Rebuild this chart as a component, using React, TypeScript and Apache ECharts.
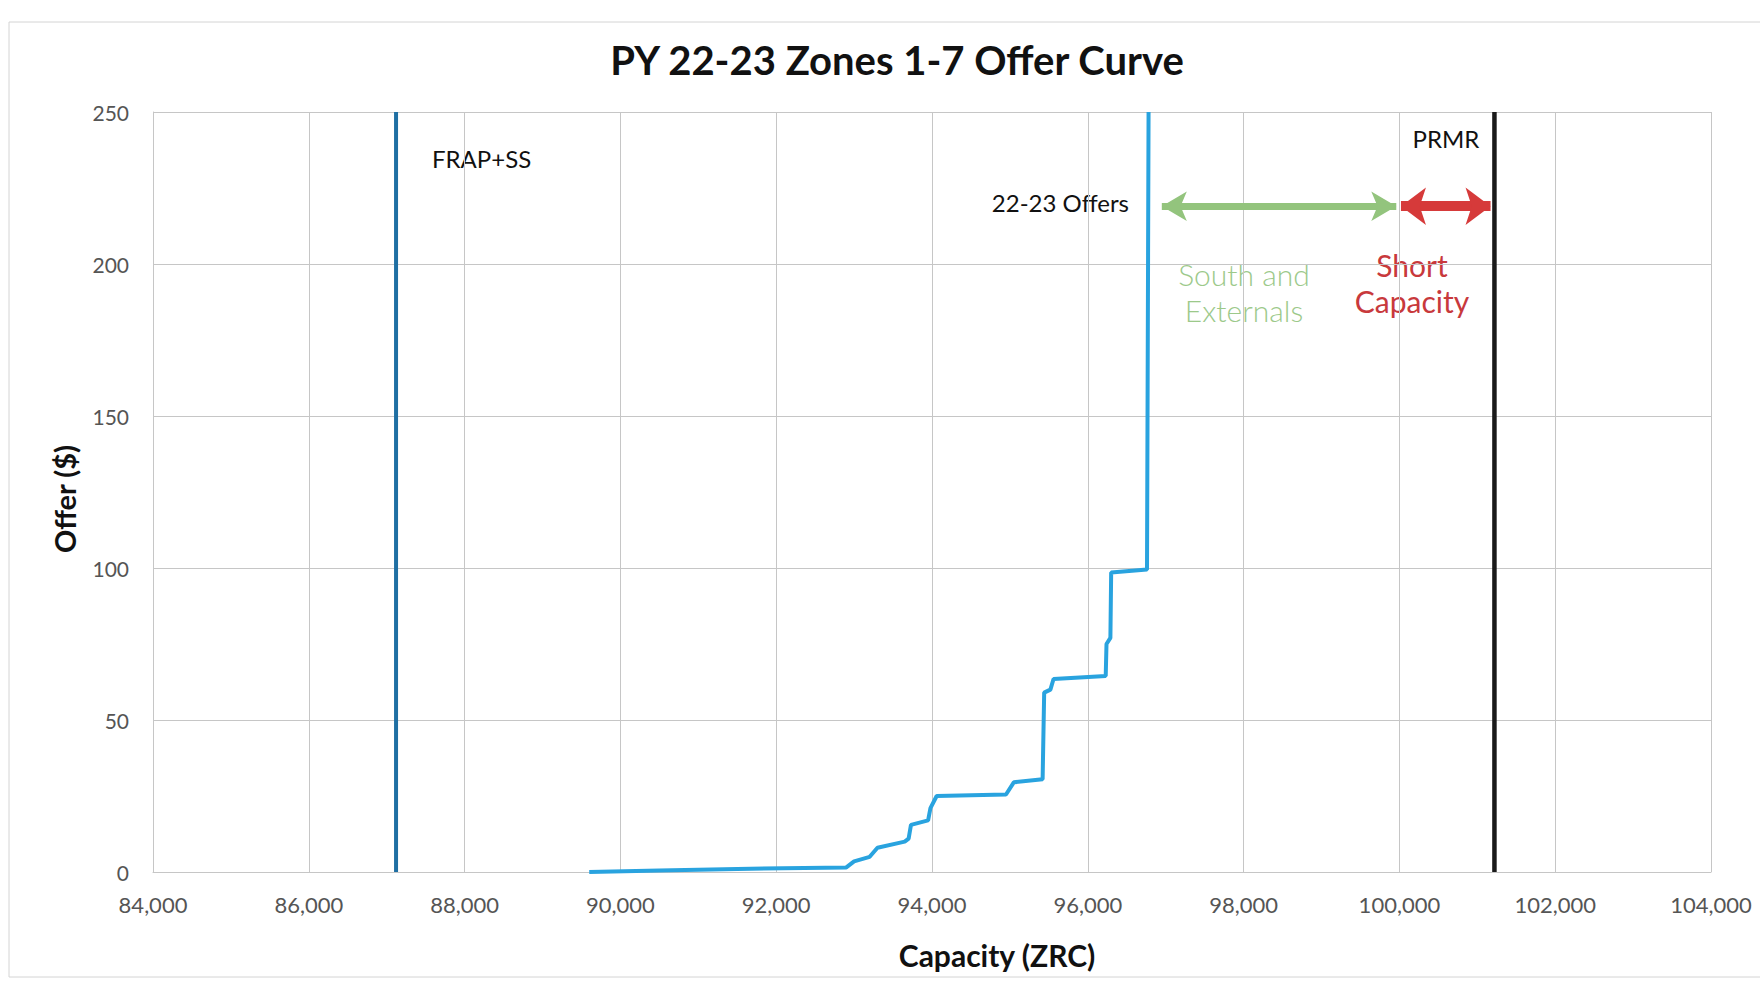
import React, { useEffect, useRef } from "react";
import * as echarts from "echarts";

// ---- Data ----
const offerCapacity = [
  89600, 90500, 91500, 92900, 93000, 93200, 93300, 93650, 93700, 93730, 93950, 93980,
  94060, 94950, 95050, 95420, 95440, 95520, 95560, 96230, 96240, 96290, 96300, 96760, 96780,
];
const offerPrice = [
  0, 0.5, 1, 1.5, 3.5, 5, 8, 10, 11, 15.5, 17, 21,
  25, 25.5, 29.5, 30.5, 59, 60, 63.5, 64.5, 75, 77, 98.5, 99.5, 250,
];
const frapCapacity = 87120;
const prmrCapacity = 101220;
const arrowLevel = 219;
const southExternalsRange = [96950, 99960];
const shortCapacityRange = [100020, 101170];

const xMin = 84000;
const xMax = 104000;
const xStep = 2000;
const yMin = 0;
const yMax = 250;
const yStep = 50;

const FONT = "Lato, 'Open Sans', sans-serif";

export default function App() {
  const ref = useRef<HTMLDivElement>(null);

  useEffect(() => {
    if (!ref.current) return;
    const chart = echarts.init(ref.current, null, { renderer: "svg" });
    const gridColor = "#c6c6c6";
    const offerData = offerCapacity.map((c, i) => [c, offerPrice[i]]);

    chart.setOption({
      animation: false,
      backgroundColor: "#ffffff",
      grid: { left: 153, right: 49, top: 112, bottom: 112, containLabel: false },
      xAxis: {
        type: "value",
        min: xMin,
        max: xMax,
        interval: xStep,
        axisLine: { show: true, lineStyle: { color: gridColor, width: 1 } },
        axisTick: { show: false },
        splitLine: { show: true, lineStyle: { color: gridColor, width: 1 } },
        axisLabel: {
          margin: 21,
          color: "#555555",
          fontSize: 22,
          fontFamily: FONT,
          formatter: (v: number) => v.toLocaleString("en-US"),
        },
      },
      yAxis: {
        type: "value",
        min: yMin,
        max: yMax,
        interval: yStep,
        axisLine: { show: true, lineStyle: { color: gridColor, width: 1 } },
        axisTick: { show: false },
        splitLine: { show: true, lineStyle: { color: gridColor, width: 1 } },
        axisLabel: { margin: 24, color: "#555555", fontSize: 21, fontFamily: FONT },
      },
      series: [
        {
          name: "22-23 Offers",
          type: "line",
          data: offerData,
          showSymbol: false,
          symbol: "none",
          lineStyle: { color: "#29a3df", width: 4 },
          z: 3,
        },
        {
          name: "FRAP+SS",
          type: "line",
          data: [
            [frapCapacity, yMin],
            [frapCapacity, yMax],
          ],
          symbol: "none",
          lineStyle: { color: "#1f6fa3", width: 4 },
        },
        {
          name: "PRMR",
          type: "line",
          data: [
            [prmrCapacity, yMin],
            [prmrCapacity, yMax],
          ],
          symbol: "none",
          lineStyle: { color: "#1a1a1a", width: 4.5 },
          markLine: {
            silent: true,
            symbol: ["arrow", "arrow"],
            label: { show: false },
            emphasis: { disabled: true },
            data: [
              [
                {
                  coord: [southExternalsRange[0], arrowLevel],
                  symbolSize: [22, 25],
                  lineStyle: { color: "#93c47d", width: 7, type: "solid" },
                  itemStyle: { color: "#93c47d" },
                },
                { coord: [southExternalsRange[1], arrowLevel], symbolSize: [22, 25] },
              ],
              [
                {
                  coord: [shortCapacityRange[0], arrowLevel],
                  symbolSize: [28, 25],
                  lineStyle: { color: "#d63a3a", width: 10, type: "solid" },
                  itemStyle: { color: "#d63a3a" },
                },
                { coord: [shortCapacityRange[1], arrowLevel], symbolSize: [28, 25] },
              ],
            ],
          },
        },
      ],
      graphic: [
        {
          type: "rect",
          silent: true,
          shape: { x: 9, y: 22, width: 1800, height: 955 },
          style: { fill: "none", stroke: "#d4d4d4", lineWidth: 1 },
          z: -10,
        },
        {
          type: "text",
          x: 897,
          y: 60,
          style: {
            text: "PY 22-23 Zones 1-7 Offer Curve",
            fontSize: 40,
            fontWeight: "bold",
            fontFamily: FONT,
            fill: "#111111",
            align: "center",
            verticalAlign: "middle",
          },
        },
        {
          type: "text",
          x: 997,
          y: 955,
          style: {
            text: "Capacity (ZRC)",
            fontSize: 30,
            fontWeight: "bold",
            fontFamily: FONT,
            fill: "#111111",
            align: "center",
            verticalAlign: "middle",
          },
        },
        {
          type: "text",
          x: 64,
          y: 499,
          rotation: Math.PI / 2,
          style: {
            text: "Offer ($)",
            fontSize: 29,
            fontWeight: "bold",
            fontFamily: FONT,
            fill: "#111111",
            align: "center",
            verticalAlign: "middle",
          },
        },
        {
          type: "text",
          x: 432,
          y: 158,
          style: {
            text: "FRAP+SS",
            fontSize: 24,
            fontFamily: FONT,
            fill: "#111111",
            align: "left",
            verticalAlign: "middle",
          },
        },
        {
          type: "text",
          x: 1129,
          y: 202,
          style: {
            text: "22-23 Offers",
            fontSize: 24,
            fontFamily: FONT,
            fill: "#111111",
            align: "right",
            verticalAlign: "middle",
          },
        },
        {
          type: "text",
          x: 1446,
          y: 138,
          style: {
            text: "PRMR",
            fontSize: 24,
            fontFamily: FONT,
            fill: "#111111",
            align: "center",
            verticalAlign: "middle",
          },
        },
        {
          type: "text",
          x: 1244,
          y: 292,
          style: {
            text: "South and\nExternals",
            fontSize: 30,
            lineHeight: 36,
            fontWeight: 300,
            fontFamily: FONT,
            fill: "#9cc98a",
            align: "center",
            verticalAlign: "middle",
          },
        },
        {
          type: "text",
          x: 1412,
          y: 283,
          style: {
            text: "Short\nCapacity",
            fontSize: 30,
            lineHeight: 36,
            fontFamily: FONT,
            fill: "#c8393c",
            align: "center",
            verticalAlign: "middle",
          },
        },
      ],
    });

    return () => chart.dispose();
  }, []);

  return (
    <div
      ref={ref}
      style={{ position: "fixed", left: 0, top: 0, width: 1760, height: 984, background: "#fff" }}
    />
  );
}
